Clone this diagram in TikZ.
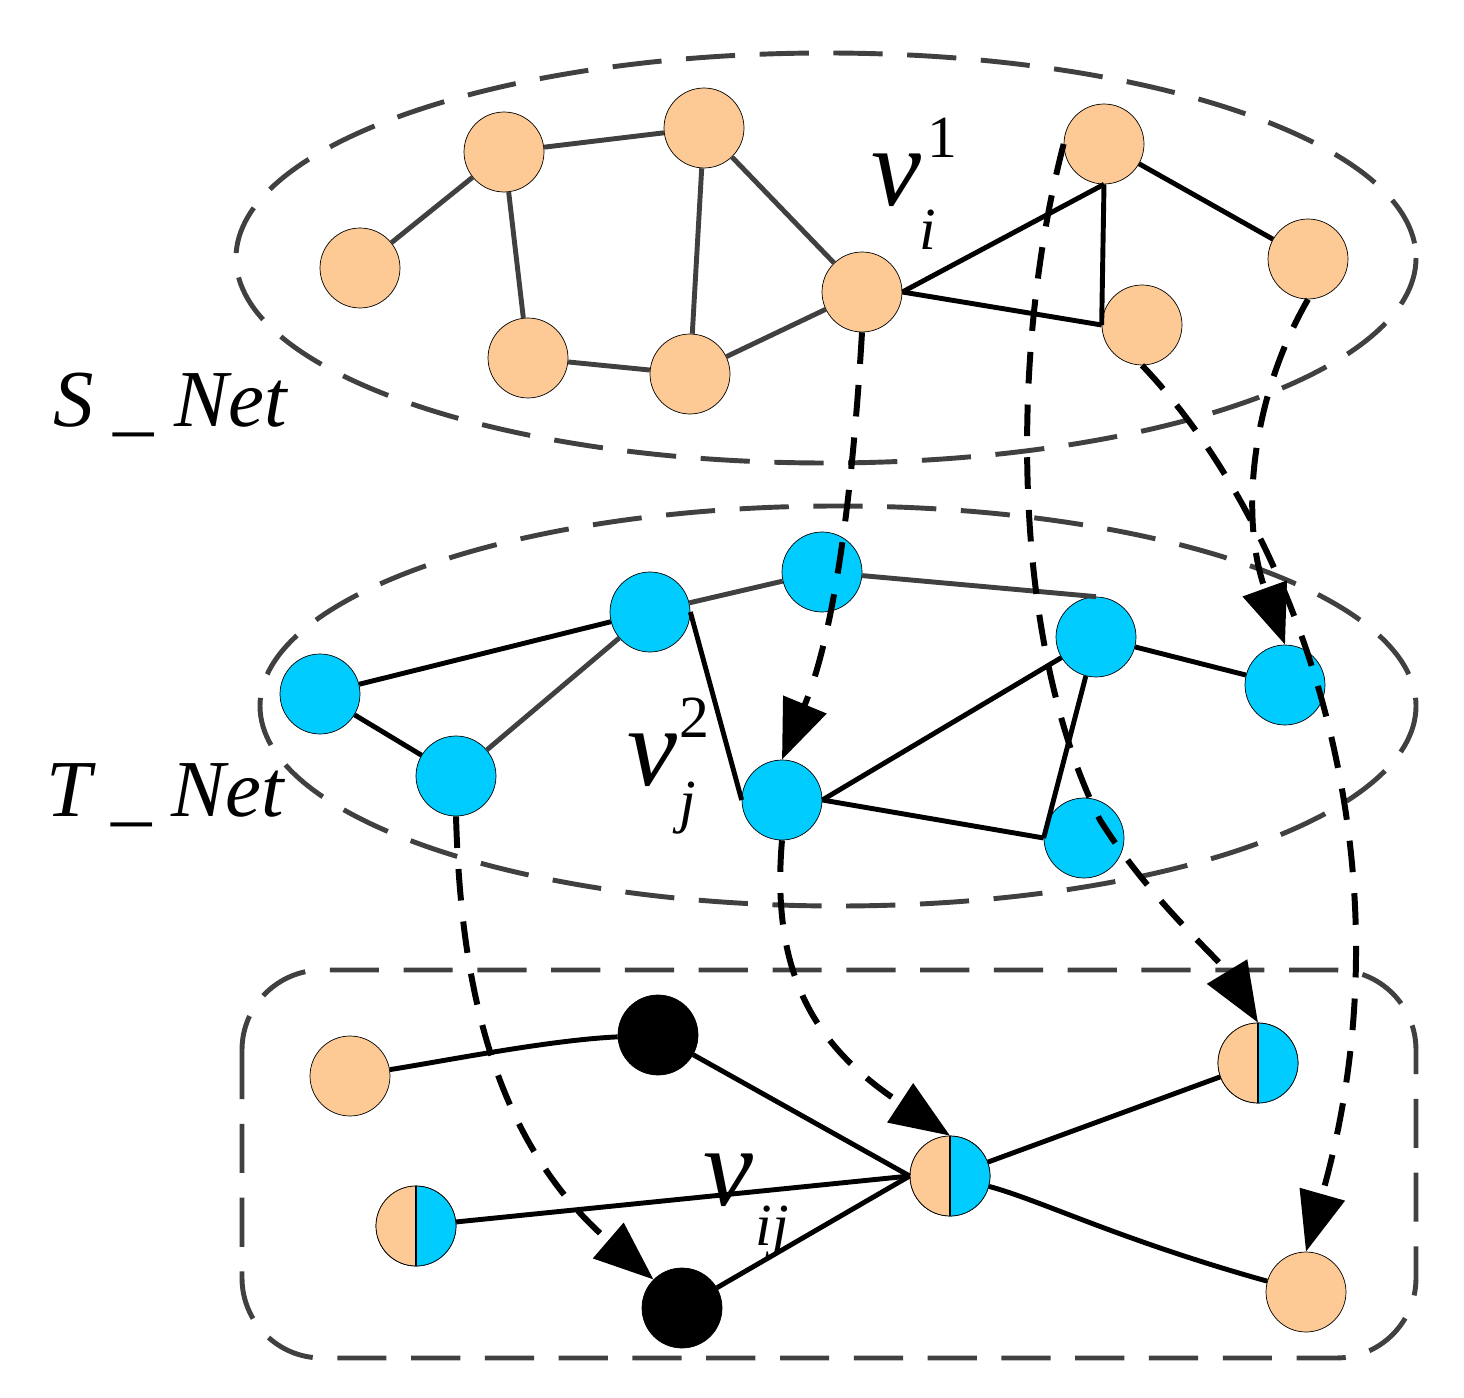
\documentclass[tikz,border=0pt]{standalone}
\usepackage{fontspec}
\setmainfont{Liberation Serif}
\usetikzlibrary{arrows.meta}
\definecolor{org}{HTML}{FDCA96}
\definecolor{cyn}{HTML}{00CCFF}
\definecolor{gr}{HTML}{404040}
\begin{document}
\begin{tikzpicture}[x=0.02cm,y=-0.02cm,
 nd/.style={circle,draw=black,line width=0.4pt,minimum size=1.6cm,inner sep=0pt},
 o/.style={nd,fill=org}, c/.style={nd,fill=cyn}, k/.style={nd,fill=black},
 e/.style={line width=2.8pt,black}, g/.style={line width=2.8pt,gr},
 grp/.style={gr,line width=2.8pt,dash pattern=on 28pt off 14pt},
 map/.style={black,line width=3.4pt,dash pattern=on 18pt off 12pt,-{Triangle[length=34pt,width=26pt]}},
 lab/.style={font=\itshape\fontsize{46}{50}\selectfont},
 vv/.style={inner sep=0pt,font=\itshape\fontsize{64}{70}\selectfont},
 ss/.style={inner sep=0pt,font=\fontsize{34}{40}\selectfont},
 si/.style={inner sep=0pt,font=\itshape\fontsize{34}{40}\selectfont}]
\useasboundingbox (0,0) rectangle (1464,1398);
\draw[grp] (826,258) ellipse [x radius=590, y radius=205];
\draw[grp] (838,706) ellipse [x radius=578, y radius=200];
\draw[grp,rounded corners=1.6cm] (242,970) rectangle (1416,1358);
% S_Net
\node[o] (s1) at (360,268) {}; \node[o] (s2) at (504,152) {}; \node[o] (s3) at (704,128) {};
\node[o] (s4) at (528,358) {}; \node[o] (s5) at (690,374) {}; \node[o] (s6) at (862,292) {};
\node[o] (s7) at (1104,144) {}; \node[o] (s8) at (1142,325) {}; \node[o] (s9) at (1308,259) {};
\draw[g] (s1)--(s2); \draw[g] (s2)--(s3); \draw[g] (s2)--(s4); \draw[g] (s3)--(s5);
\draw[g] (s3)--(s6); \draw[g] (s4)--(s5); \draw[g] (s5)--(s6);
\draw[e] (s6.east)--(s7.south); \draw[e] (s6.east)--(s8.west); \draw[e] (s7.south)--(s8.west); \draw[e] (s7)--(s9);
% T_Net
\node[c] (t1) at (320,694) {}; \node[c] (t2) at (650,612) {}; \node[c] (t3) at (822,572) {};
\node[c] (t4) at (456,776) {}; \node[c] (t5) at (782,800) {}; \node[c] (t6) at (1096,637) {};
\node[c] (t7) at (1285,685) {}; \node[c] (t8) at (1084,838) {};
\draw[e] (t1)--(t2); \draw[g] (t2)--(t3); \draw[g] (t3)--(t6.north); \draw[e] (t1)--(t4);
\draw[g] (t4)--(t2); \draw[e] (t2.east)--(t5.west); \draw[e] (t5.east)--(t6);
\draw[e] (t5.east)--(t8.west); \draw[e] (t6)--(t8.west); \draw[e] (t6)--(t7);
% merged
\node[o] (b1) at (350,1076) {}; \node[k] (b2) at (658,1035) {}; \node[k] (b5) at (682,1308) {};
\node[o] (b7) at (1306,1292) {};
\foreach \n/\p in {b3/{(416,1226)},b4/{(950,1176)},b6/{(1258,1063)}}{
 \node[nd] (\n) at \p {};
 \fill[org] (\n.north) arc[start angle=90,end angle=270,radius=0.8cm] -- cycle;
 \fill[cyn] (\n.south) arc[start angle=-90,end angle=90,radius=0.8cm] -- cycle;
 \draw[line width=0.4pt] (\n) circle[radius=0.8cm];
 \draw[line width=1.2pt] (\n.north)--(\n.south);
}
\draw[e] (b1) .. controls (450,1060) and (550,1040) .. (b2); \draw[e] (b2)--(b4.west); \draw[e] (b3)--(b4.west); \draw[e] (b5)--(b4.west);
\draw[e] (b4)--(b6); \draw[e] (b4) .. controls (1040,1200) and (1120,1240) .. (b7);
% mapping arrows
\draw[map] (s6.south) .. controls (855,450) and (840,620) .. (t5.north);
\draw[map] (s7.west) .. controls (1010,350) and (1010,640) .. (1100,820) .. controls (1150,900) and (1220,960) .. (b6.north);
\draw[map] (s9.south) .. controls (1250,400) and (1240,520) .. (t7.north);
\draw[map] (s8.south) .. controls (1290,520) and (1420,850) .. (b7.north);
\draw[map] (t4.south) .. controls (460,950) and (480,1130) .. (b5.north west);
\draw[map] (t5.south) .. controls (770,980) and (820,1050) .. (b4.north);
% labels
\node[lab] (ls) at (170,405) {S \_ Net};
\node[lab] (lt) at (165,795) {T \_ Net};
\node[vv] (vi) at (896,180) {v}; \node[ss] (vi1) at (942,138) {1}; \node[si] (vii) at (928,230) {i};
\node[vv] (vj) at (652,760) {v}; \node[ss] (vj2) at (694,718) {2}; \node[si] (vjj) at (688,808) {j};
\node[vv] (vij) at (728,1180) {v}; \node[si] (vijs) at (772,1232) {ij};
\end{tikzpicture}
\end{document}
